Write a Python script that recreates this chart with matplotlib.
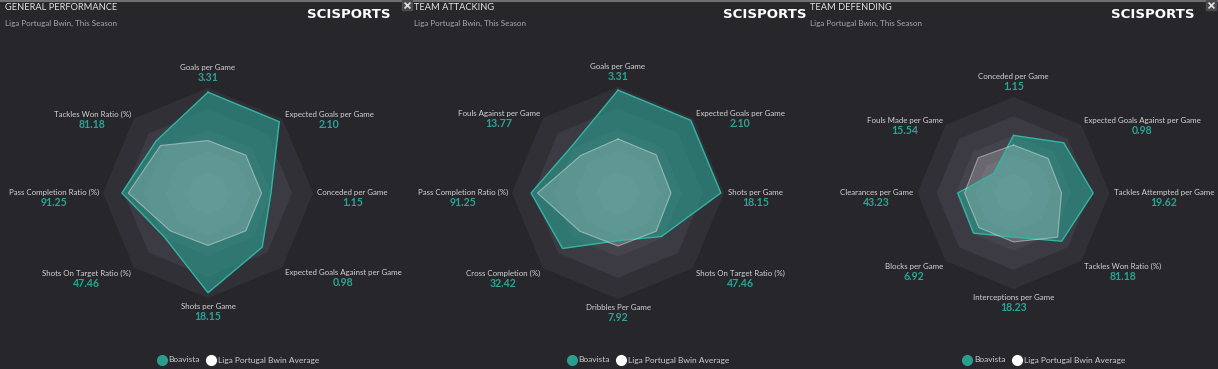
import numpy as np
import matplotlib
matplotlib.use("Agg")
import matplotlib.pyplot as plt
from matplotlib.lines import Line2D
from matplotlib.offsetbox import TextArea, VPacker, AnnotationBbox

W, H = 1218, 369
BG = '#27262b'
TEAL = '#2a9d8f'
TEAL_EDGE = '#33b5a4'
TEAL_TXT = '#2aa597'
LABEL_COL = '#d6d6d6'
plt.rcParams['font.family'] = ['Lato', 'DejaVu Sans']

# --- data (normalised radar values 0..1) ---
titles = ["GENERAL PERFORMANCE", "TEAM ATTACKING", "TEAM DEFENDING"]
subtitle = "Liga Portugal Bwin, This Season"
legend_labels = ["Boavista", "Liga Portugal Bwin Average"]

cats1 = ["Goals per Game", "Expected Goals per Game", "Conceded per Game",
         "Expected Goals Against per Game", "Shots per Game",
         "Shots On Target Ratio (%)", "Pass Completion Ratio (%)", "Tackles Won Ratio (%)"]
vals1 = ["3.31", "2.10", "1.15", "0.98", "18.15", "47.46", "91.25", "81.18"]
team1 = [0.96, 0.96, 0.60, 0.73, 0.95, 0.59, 0.82, 0.70]
avg1 = [0.50, 0.51, 0.51, 0.51, 0.50, 0.51, 0.76, 0.64]

cats2 = ["Goals per Game", "Expected Goals per Game", "Shots per Game",
         "Shots On Target Ratio (%)", "Dribbles Per Game", "Cross Completion (%)",
         "Pass Completion Ratio (%)", "Fouls Against per Game"]
vals2 = ["3.31", "2.10", "18.15", "47.46", "7.92", "32.42", "91.25", "13.77"]
team2 = [0.97, 0.97, 0.97, 0.58, 0.45, 0.74, 0.82, 0.62]
avg2 = [0.51, 0.51, 0.50, 0.51, 0.50, 0.51, 0.76, 0.50]

cats3 = ["Conceded per Game", "Expected Goals Against per Game", "Tackles Attempted per Game",
         "Tackles Won Ratio (%)", "Interceptions per Game", "Blocks per Game",
         "Clearances per Game", "Fouls Made per Game"]
vals3 = ["1.15", "0.98", "19.62", "81.18", "18.23", "6.92", "43.23", "15.54"]
team3 = [0.60, 0.74, 0.83, 0.71, 0.46, 0.59, 0.58, 0.29]
avg3 = [0.50, 0.51, 0.50, 0.65, 0.51, 0.51, 0.51, 0.52]

# label placement per axis position (box alignment, offset in points)
label_pos = [((0.5, 0), (0, 3.5)), ((0, 0.5), (2, -1)), ((0, 0.5), (3, -4)), ((0, 1), (2, -1.5)),
             ((0.5, 1), (0, -3.5)), ((1, 1), (-2, -1.5)), ((1, 0.5), (-3, -4)), ((1, 0.5), (-2, -1))]


def draw_panel(fig, x0, title, cats, vals, team, avg, cx, cy, R, logo_right):
	ax = fig.add_axes([(cx - R) / W, (H - cy - R) / H, 2 * R / W, 2 * R / H], projection='polar')
	ax.set_theta_zero_location('N')
	ax.set_theta_direction(-1)
	ax.set_ylim(0, 1)
	ax.axis('off')
	n = len(cats)
	th = np.arange(n) * 2 * np.pi / n
	thc = np.append(th, th[0])
	# octagon bands, lighter towards the centre
	for k in range(5, 0, -1):
		ax.fill(thc, [k / 5.0] * (n + 1), color='#e4defa', alpha=0.058, lw=0, zorder=1)
	ax.fill(thc, team + team[:1], color=TEAL, alpha=0.62, lw=0, zorder=2)
	ax.fill(thc, avg + avg[:1], color='white', alpha=0.2, lw=0, zorder=3)
	ax.plot(thc, team + team[:1], color=TEAL_EDGE, lw=1.0, zorder=4)
	ax.plot(thc, avg + avg[:1], color='white', alpha=0.4, lw=0.8, zorder=5)
	for i in range(n):
		align, off = label_pos[i]
		t1 = TextArea(cats[i], textprops=dict(color=LABEL_COL, fontsize=5.7))
		t2 = TextArea(vals[i], textprops=dict(color=TEAL_TXT, fontsize=7.6, fontweight='bold'))
		box = VPacker(children=[t1, t2], align='center', pad=0, sep=0.8)
		ab = AnnotationBbox(box, (th[i], 1.0), xybox=off, xycoords='data', boxcoords='offset points',
			box_alignment=align, frameon=False, annotation_clip=False, pad=0)
		ax.add_artist(ab)

	fig.text(x0 / W, 1 - 8 / H, title, color='#e4e4e4', fontsize=6.7, va='center', ha='left')
	fig.text(x0 / W, 1 - 23 / H, subtitle, color='#a9a9a9', fontsize=5.8, va='center', ha='left')
	fig.text(logo_right / W, 1 - 14 / H, "SCISPORTS", color='white', fontsize=9.6, fontweight='bold',
		family='DejaVu Sans', va='center', ha='right')

	handles = [Line2D([], [], marker='o', ls='', markerfacecolor=TEAL, markeredgecolor='none', markersize=8),
		Line2D([], [], marker='o', ls='', markerfacecolor='white', markeredgecolor='none', markersize=8)]
	fig.legend(handles, legend_labels, loc='center', bbox_to_anchor=((cx + 30) / W, 1 - 360 / H),
		ncol=2, frameon=False, fontsize=6, labelcolor='#cfcfcf', handletextpad=0.2,
		columnspacing=0.8, handlelength=1.2, borderpad=0)


fig = plt.figure(figsize=(W / 100, H / 100), dpi=100, facecolor=BG)

draw_panel(fig, 5, titles[0], cats1, vals1, team1, avg1, 208, 193, 105, 390)
draw_panel(fig, 414, titles[1], cats2, vals2, team2, avg2, 618, 193, 106, 807)
draw_panel(fig, 810, titles[2], cats3, vals3, team3, avg3, 1013.5, 193, 96, 1195)

# thin top border and the small close icons
top = fig.add_axes([0, 0, 1, 1], facecolor='none')
top.set_xlim(0, W)
top.set_ylim(H, 0)
top.axis('off')
top.plot([0, W], [0.5, 0.5], color='#707070', lw=1.5)
top.scatter([407, 1211], [5, 5], s=50, marker='s', color='#4a4a4f', zorder=3)
top.scatter([407, 1211], [5, 5], s=18, marker='x', color='#e0e0e0', lw=1.2, zorder=4)

fig.savefig('out.png', dpi=100, facecolor=BG)
